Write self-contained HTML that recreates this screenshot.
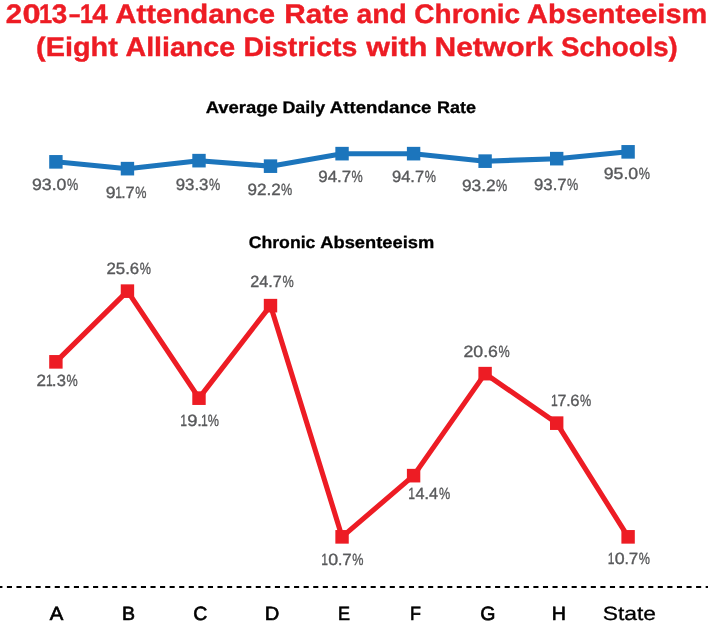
<!DOCTYPE html>
<html lang="en"><head><meta charset="utf-8"><title>2013–14 Attendance Rate and Chronic Absenteeism</title>
<style>
html,body{margin:0;padding:0;background:#fff;}
body{width:708px;height:625px;overflow:hidden;}
svg{display:block;font-family:"Liberation Sans",sans-serif;text-rendering:geometricPrecision;}
.t{font-weight:bold;fill:#ed1c24;font-size:26.8px;stroke:#ed1c24;stroke-width:0.4px;}
.h{font-weight:bold;fill:#000000;font-size:16.8px;stroke:#000000;stroke-width:0.3px;}
.v{fill:#58595b;font-size:16.2px;stroke:#58595b;stroke-width:0.35px;}
.a{fill:#000000;font-size:19.2px;stroke:#000000;stroke-width:0.65px;}
</style></head><body>
<svg width="708" height="625" viewBox="0 0 708 625">
<desc>2013–14 Attendance Rate and Chronic Absenteeism (Eight Alliance Districts with Network Schools). Average Daily Attendance Rate: A 93.0%, B 91.7%, C 93.3%, D 92.2%, E 94.7%, F 94.7%, G 93.2%, H 93.7%, State 95.0%. Chronic Absenteeism: A 21.3%, B 25.6%, C 19.1%, D 24.7%, E 10.7%, F 14.4%, G 20.6%, H 17.6%, State 10.7%.</desc>
<rect width="708" height="625" fill="#fff"/>
<polyline fill="none" stroke="#1c75bc" stroke-width="5.1" stroke-linejoin="round" points="55.9,161.8 127.5,168.7 199.0,160.7 270.5,166.2 342.1,153.7 413.6,153.7 485.1,161.2 556.7,158.7 628.1,151.8"/>
<rect x="49.20" y="155.05" width="13.4" height="13.6" fill="#1c75bc"/>
<rect x="120.75" y="161.85" width="13.4" height="13.6" fill="#1c75bc"/>
<rect x="192.30" y="153.85" width="13.4" height="13.6" fill="#1c75bc"/>
<rect x="263.80" y="159.35" width="13.4" height="13.6" fill="#1c75bc"/>
<rect x="335.35" y="146.85" width="13.4" height="13.6" fill="#1c75bc"/>
<rect x="406.90" y="146.85" width="13.4" height="13.6" fill="#1c75bc"/>
<rect x="478.40" y="154.35" width="13.4" height="13.6" fill="#1c75bc"/>
<rect x="550.00" y="151.85" width="13.4" height="13.6" fill="#1c75bc"/>
<rect x="621.40" y="145.05" width="13.4" height="13.6" fill="#1c75bc"/>
<polyline fill="none" stroke="#ed1c24" stroke-width="5.1" stroke-linejoin="round" points="55.9,361.9 127.5,291.1 199.0,398.1 270.5,305.6 342.1,536.9 413.6,475.6 485.1,373.6 556.7,423.1 628.1,536.9"/>
<rect x="49.20" y="355.05" width="13.4" height="13.6" fill="#ed1c24"/>
<rect x="120.75" y="284.35" width="13.4" height="13.6" fill="#ed1c24"/>
<rect x="192.30" y="391.35" width="13.4" height="13.6" fill="#ed1c24"/>
<rect x="263.80" y="298.85" width="13.4" height="13.6" fill="#ed1c24"/>
<rect x="335.35" y="530.05" width="13.4" height="13.6" fill="#ed1c24"/>
<rect x="406.90" y="468.85" width="13.4" height="13.6" fill="#ed1c24"/>
<rect x="478.40" y="366.85" width="13.4" height="13.6" fill="#ed1c24"/>
<rect x="550.00" y="416.35" width="13.4" height="13.6" fill="#ed1c24"/>
<rect x="621.40" y="530.05" width="13.4" height="13.6" fill="#ed1c24"/>
<line x1="-2.67" y1="587" x2="708" y2="587" stroke="#000000" stroke-width="2.05" stroke-dasharray="5.1 4.472"/>
<text class="t" y="23"><tspan x="5.77" textLength="16.28" lengthAdjust="spacingAndGlyphs">2</tspan><tspan x="22.60" textLength="18.07" lengthAdjust="spacingAndGlyphs">0</tspan><tspan x="39.02" textLength="13.10" lengthAdjust="spacingAndGlyphs">1</tspan><tspan x="51.76" textLength="15.46" lengthAdjust="spacingAndGlyphs">3</tspan><tspan x="69.05" textLength="11.29" lengthAdjust="spacingAndGlyphs">–</tspan><tspan x="79.92" textLength="13.10" lengthAdjust="spacingAndGlyphs">1</tspan><tspan x="92.25" textLength="15.45" lengthAdjust="spacingAndGlyphs">4</tspan> <tspan x="115.30" textLength="159.86" lengthAdjust="spacingAndGlyphs">Attendance</tspan> <tspan x="284.38" textLength="64.53" lengthAdjust="spacingAndGlyphs">Rate</tspan> <tspan x="356.48" textLength="50.18" lengthAdjust="spacingAndGlyphs">and</tspan> <tspan x="414.29" textLength="105.87" lengthAdjust="spacingAndGlyphs">Chronic</tspan> <tspan x="527.10" textLength="180.13" lengthAdjust="spacingAndGlyphs">Absenteeism</tspan></text>
<text class="t" y="56"><tspan x="36.13" textLength="81.62" lengthAdjust="spacingAndGlyphs">(Eight</tspan> <tspan x="125.49" textLength="109.66" lengthAdjust="spacingAndGlyphs">Alliance</tspan> <tspan x="243.50" textLength="113.92" lengthAdjust="spacingAndGlyphs">Districts</tspan> <tspan x="366.36" textLength="61.04" lengthAdjust="spacingAndGlyphs">with</tspan> <tspan x="434.53" textLength="118.31" lengthAdjust="spacingAndGlyphs">Network</tspan> <tspan x="561.09" textLength="116.68" lengthAdjust="spacingAndGlyphs">Schools)</tspan></text>
<text class="h" y="113"><tspan x="205.65" textLength="72.16" lengthAdjust="spacingAndGlyphs">Average</tspan> <tspan x="282.48" textLength="42.73" lengthAdjust="spacingAndGlyphs">Daily</tspan> <tspan x="329.85" textLength="101.56" lengthAdjust="spacingAndGlyphs">Attendance</tspan> <tspan x="436.96" textLength="38.97" lengthAdjust="spacingAndGlyphs">Rate</tspan></text>
<text class="h" y="248"><tspan x="248.69" textLength="66.71" lengthAdjust="spacingAndGlyphs">Chronic</tspan> <tspan x="320.25" textLength="113.96" lengthAdjust="spacingAndGlyphs">Absenteeism</tspan></text>
<text class="v" y="190"><tspan x="31.97" textLength="34.45" lengthAdjust="spacingAndGlyphs">93.0</tspan><tspan x="67.03" textLength="11.23" lengthAdjust="spacingAndGlyphs">%</tspan></text>
<text class="v" y="198"><tspan x="105.69" textLength="9.83" lengthAdjust="spacingAndGlyphs">9</tspan><tspan x="115.30" textLength="6.75" lengthAdjust="spacingAndGlyphs">1</tspan><tspan x="121.27" textLength="4.34" lengthAdjust="spacingAndGlyphs">.</tspan><tspan x="125.59" textLength="9.18" lengthAdjust="spacingAndGlyphs">7</tspan><tspan x="135.28" textLength="11.23" lengthAdjust="spacingAndGlyphs">%</tspan></text>
<text class="v" y="190"><tspan x="175.73" textLength="32.70" lengthAdjust="spacingAndGlyphs">93.3</tspan><tspan x="209.03" textLength="11.23" lengthAdjust="spacingAndGlyphs">%</tspan></text>
<text class="v" y="195"><tspan x="247.48" textLength="33.21" lengthAdjust="spacingAndGlyphs">92.2</tspan><tspan x="281.03" textLength="11.23" lengthAdjust="spacingAndGlyphs">%</tspan></text>
<text class="v" y="182"><tspan x="318.23" textLength="32.96" lengthAdjust="spacingAndGlyphs">94.7</tspan><tspan x="351.53" textLength="11.23" lengthAdjust="spacingAndGlyphs">%</tspan></text>
<text class="v" y="182"><tspan x="391.98" textLength="32.20" lengthAdjust="spacingAndGlyphs">94.7</tspan><tspan x="424.78" textLength="11.23" lengthAdjust="spacingAndGlyphs">%</tspan></text>
<text class="v" y="191"><tspan x="461.98" textLength="33.71" lengthAdjust="spacingAndGlyphs">93.2</tspan><tspan x="496.03" textLength="11.23" lengthAdjust="spacingAndGlyphs">%</tspan></text>
<text class="v" y="190"><tspan x="533.98" textLength="32.71" lengthAdjust="spacingAndGlyphs">93.7</tspan><tspan x="567.03" textLength="11.23" lengthAdjust="spacingAndGlyphs">%</tspan></text>
<text class="v" y="179"><tspan x="603.72" textLength="34.45" lengthAdjust="spacingAndGlyphs">95.0</tspan><tspan x="638.78" textLength="11.23" lengthAdjust="spacingAndGlyphs">%</tspan></text>
<text class="v" y="386"><tspan x="36.43" textLength="9.51" lengthAdjust="spacingAndGlyphs">2</tspan><tspan x="45.88" textLength="6.75" lengthAdjust="spacingAndGlyphs">1</tspan><tspan x="51.86" textLength="4.81" lengthAdjust="spacingAndGlyphs">.</tspan><tspan x="56.76" textLength="9.21" lengthAdjust="spacingAndGlyphs">3</tspan><tspan x="66.53" textLength="11.23" lengthAdjust="spacingAndGlyphs">%</tspan></text>
<text class="v" y="274"><tspan x="106.48" textLength="32.71" lengthAdjust="spacingAndGlyphs">25.6</tspan><tspan x="139.78" textLength="11.23" lengthAdjust="spacingAndGlyphs">%</tspan></text>
<text class="v" y="426"><tspan x="180.30" textLength="6.75" lengthAdjust="spacingAndGlyphs">1</tspan><tspan x="187.30" textLength="10.27" lengthAdjust="spacingAndGlyphs">9</tspan><tspan x="197.39" textLength="4.60" lengthAdjust="spacingAndGlyphs">.</tspan><tspan x="201.04" textLength="6.75" lengthAdjust="spacingAndGlyphs">1</tspan><tspan x="207.78" textLength="11.23" lengthAdjust="spacingAndGlyphs">%</tspan></text>
<text class="v" y="287"><tspan x="250.23" textLength="31.58" lengthAdjust="spacingAndGlyphs">24.7</tspan><tspan x="282.43" textLength="11.25" lengthAdjust="spacingAndGlyphs">%</tspan></text>
<text class="v" y="565"><tspan x="321.20" textLength="6.75" lengthAdjust="spacingAndGlyphs">1</tspan><tspan x="328.16" textLength="9.91" lengthAdjust="spacingAndGlyphs">0</tspan><tspan x="338.12" textLength="4.37" lengthAdjust="spacingAndGlyphs">.</tspan><tspan x="342.29" textLength="9.47" lengthAdjust="spacingAndGlyphs">7</tspan><tspan x="352.28" textLength="11.23" lengthAdjust="spacingAndGlyphs">%</tspan></text>
<text class="v" y="499"><tspan x="408.35" textLength="6.75" lengthAdjust="spacingAndGlyphs">1</tspan><tspan x="415.47" textLength="9.04" lengthAdjust="spacingAndGlyphs">4</tspan><tspan x="424.27" textLength="4.87" lengthAdjust="spacingAndGlyphs">.</tspan><tspan x="429.12" textLength="9.06" lengthAdjust="spacingAndGlyphs">4</tspan><tspan x="439.03" textLength="11.23" lengthAdjust="spacingAndGlyphs">%</tspan></text>
<text class="v" y="357"><tspan x="463.47" textLength="34.47" lengthAdjust="spacingAndGlyphs">20.6</tspan><tspan x="498.53" textLength="11.23" lengthAdjust="spacingAndGlyphs">%</tspan></text>
<text class="v" y="406"><tspan x="550.95" textLength="6.75" lengthAdjust="spacingAndGlyphs">1</tspan><tspan x="557.47" textLength="8.97" lengthAdjust="spacingAndGlyphs">7</tspan><tspan x="566.15" textLength="4.35" lengthAdjust="spacingAndGlyphs">.</tspan><tspan x="570.21" textLength="9.26" lengthAdjust="spacingAndGlyphs">6</tspan><tspan x="580.03" textLength="11.23" lengthAdjust="spacingAndGlyphs">%</tspan></text>
<text class="v" y="564"><tspan x="607.70" textLength="6.75" lengthAdjust="spacingAndGlyphs">1</tspan><tspan x="614.66" textLength="9.91" lengthAdjust="spacingAndGlyphs">0</tspan><tspan x="624.62" textLength="4.37" lengthAdjust="spacingAndGlyphs">.</tspan><tspan x="628.79" textLength="9.47" lengthAdjust="spacingAndGlyphs">7</tspan><tspan x="638.78" textLength="11.23" lengthAdjust="spacingAndGlyphs">%</tspan></text>
<text class="a" y="620"><tspan x="49.72" textLength="13.56" lengthAdjust="spacingAndGlyphs">A</tspan></text>
<text class="a" y="620"><tspan x="122.10" textLength="13.04" lengthAdjust="spacingAndGlyphs">B</tspan></text>
<text class="a" y="620"><tspan x="193.20" textLength="14.06" lengthAdjust="spacingAndGlyphs">C</tspan></text>
<text class="a" y="620"><tspan x="264.80" textLength="14.53" lengthAdjust="spacingAndGlyphs">D</tspan></text>
<text class="a" y="620"><tspan x="338.08" textLength="12.01" lengthAdjust="spacingAndGlyphs">E</tspan></text>
<text class="a" y="620"><tspan x="410.10" textLength="10.94" lengthAdjust="spacingAndGlyphs">F</tspan></text>
<text class="a" y="620"><tspan x="480.19" textLength="15.19" lengthAdjust="spacingAndGlyphs">G</tspan></text>
<text class="a" y="620"><tspan x="551.79" textLength="14.16" lengthAdjust="spacingAndGlyphs">H</tspan></text>
<text class="a" y="620" style="stroke-width:0.3px"><tspan x="602.73" textLength="53.29" lengthAdjust="spacingAndGlyphs">State</tspan></text>
</svg></body></html>
